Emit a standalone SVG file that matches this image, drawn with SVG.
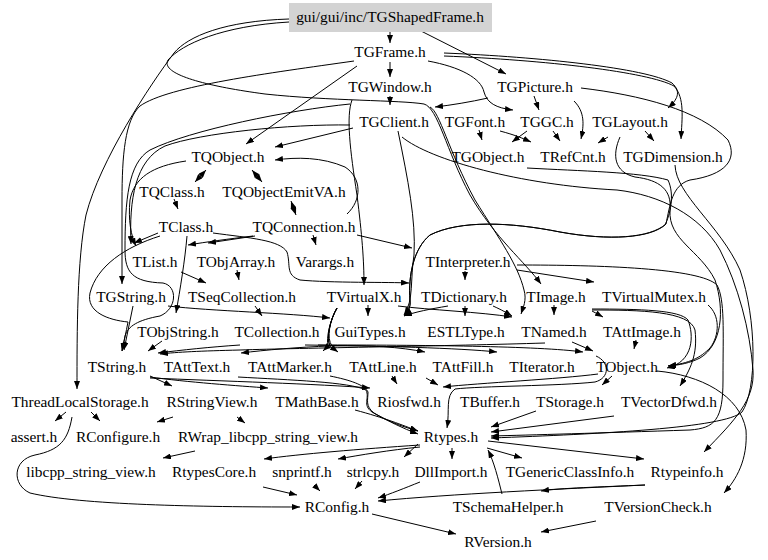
<svg xmlns="http://www.w3.org/2000/svg" width="768" height="560" viewBox="0 0 768 560">
<style>
text{font-family:"Liberation Serif","Times New Roman",serif;font-size:15.4px;fill:#000;text-anchor:middle}
.e{fill:none;stroke:#000;stroke-width:1;marker-end:url(#a)}
.d{marker-start:url(#a)}
</style>
<defs>
<marker id="a" viewBox="0 0 8 6" refX="8" refY="3" markerWidth="8" markerHeight="6" markerUnits="userSpaceOnUse" orient="auto-start-reverse"><path d="M0,0 L8,3 L0,6 z" fill="#000"/></marker>
</defs>
<rect width="768" height="560" fill="#fff"/>
<g id="edges">
<path class="e" d="M390,32 L390,43"/>
<path class="e" d="M421,31 L506,74"/>
<path class="e" d="M289,19 C225,21 188,36 174,53 C150,85 100,160 86,215 C77,260 77,330 77,389"/>
<path class="e" d="M289,22 C222,26 182,44 168,60 C160,74 205,86 265,94 C330,101 400,100 424,104 C438,108 446,150 470,195 C495,238 525,262 541,284"/>
<path class="e" d="M488,98 C470,102 452,105 435,107"/>
<path class="e" d="M390,62 L390,77"/>
<path class="e" d="M354,61 C270,73 168,86 140,106 C125,120 122,155 122,200 L122,284"/>
<path class="e" d="M357,66 L246,144"/>
<path class="e" d="M428,61 C460,67 481,78 484,92 C487,103 496,108 513,110"/>
<path class="e" d="M444,53 C540,57 645,68 672,83 C682,92 677,100 668,108"/>
<path class="e" d="M444,56 C545,60 648,72 674,86 C685,98 682,118 681,139"/>
<path class="e" d="M390,96 L390,105"/>
<path class="e" d="M352,100 C346,116 350,150 357,195 C362,235 364,260 364,285"/>
<path class="e" d="M350,104 C290,110 190,130 150,150 C128,163 125,200 125,250 C125,272 132,282 163,283 C178,286 177,309 160,316 C138,320 128,326 125,336 L122,351"/>
<path class="e" d="M353,128 L275,147"/>
<path class="e" d="M350,125 C290,124 200,133 165,146 C135,160 129,200 131,244"/>
<path class="e" d="M186,161 C152,166 134,178 130,200 C128,220 131,236 136,246"/>
<path class="e" d="M347,214 C362,200 362,178 345,167 C322,157 297,157 275,160"/>
<path class="e d" d="M195,182 L206,170"/>
<path class="e d" d="M262,182 L252,170"/>
<path class="e d" d="M291,201 L296,215"/>
<path class="e" d="M174,199 L178,209"/>
<path class="e" d="M158,233 L134,243"/>
<path class="e" d="M160,236 C125,247 97,266 90,293 C86,312 108,320 128,322 C126,332 124,342 122,351"/>
<path class="e" d="M187,236 C185,260 180,290 176,313"/>
<path class="e" d="M253,236 C228,239 206,242 188,245"/>
<path class="e" d="M255,236 L208,243"/>
<path class="e" d="M213,233 C250,238 280,240 287,252 C291,265 285,275 300,280 C330,283 390,282 409,283"/>
<path class="e" d="M313,235 L316,245"/>
<path class="e" d="M357,235 L412,248"/>
<path class="e" d="M181,272 L206,283"/>
<path class="e" d="M237,270 L239,280"/>
<path class="e" d="M255,306 L262,316"/>
<path class="e" d="M168,306 C210,311 290,313 330,318"/>
<path class="e" d="M133,306 L124,350"/>
<path class="e" d="M162,341 L148,351"/>
<path class="e" d="M240,345 C210,347 182,350 158,353"/>
<path class="e" d="M368,305 L368,316"/>
<path class="e" d="M337,308 C330,320 326,338 330,346 C300,347 265,350 241,353"/>
<path class="e" d="M337,308 C330,320 326,338 328,346 L323,351"/>
<path class="e" d="M337,308 C330,320 326,338 330,346 L338,352"/>
<path class="e" d="M337,308 C330,320 326,338 332,346 C370,345 400,347 425,352"/>
<path class="e" d="M398,306 C430,310 480,312 512,317"/>
<path class="e" d="M305,345 C380,346 460,348 497,352"/>
<path class="e" d="M545,343 C450,346 300,348 240,350 C200,351 178,352 160,354"/>
<path class="e" d="M572,342 L593,351"/>
<path class="e" d="M318,345 C420,345 540,346 583,352"/>
<path class="e" d="M465,271 L465,280"/>
<path class="e" d="M517,270 L594,282"/>
<path class="e" d="M517,265 C600,265 700,268 717,285 C725,300 723,330 723,380 C723,420 715,428 690,430 C600,433 530,435 491,436"/>
<path class="e" d="M465,306 L465,316"/>
<path class="e" d="M493,306 C502,310 507,313 512,316"/>
<path class="e" d="M448,306 C430,309 415,312 404,316"/>
<path class="e" d="M430,107 C440,112 448,150 475,200 C500,240 518,265 524,290 C527,300 523,308 521,314"/>
<path class="e" d="M398,131 C408,180 416,220 414,255 C410,280 414,300 404,315"/>
<path class="e" d="M527,168 C580,171 640,172 668,180 C675,195 670,215 665,225 C650,238 610,241 560,232 C510,222 460,220 430,235 C414,248 408,275 410,300 C411,308 407,313 404,316"/>
<path class="e" d="M581,88 C640,95 700,110 728,140 C738,160 725,175 690,180 C672,185 670,205 666,224 C650,238 610,241 560,232 C510,222 460,220 430,235 C414,248 408,275 410,300 C411,308 407,313 404,316"/>
<path class="e" d="M402,137 C430,160 520,185 617,190 C660,195 700,215 720,250 C738,285 750,330 753,370 C755,400 735,420 704,452"/>
<path class="e" d="M675,165 C676,195 720,225 740,270 C757,320 757,390 742,412 C725,428 600,434 491,438"/>
<path class="e" d="M534,96 L539,110"/>
<path class="e" d="M574,101 C585,112 584,125 581,139"/>
<path class="e" d="M479,130 L482,140"/>
<path class="e" d="M527,131 L512,142"/>
<path class="e" d="M500,131 C515,135 522,138 531,142"/>
<path class="e" d="M553,131 L560,141"/>
<path class="e" d="M608,137 L598,143"/>
<path class="e" d="M645,131 L654,141"/>
<path class="e" d="M620,137 C612,155 614,172 635,177 C660,180 672,190 670,210 C668,240 700,250 715,280 C725,310 722,345 700,358 C690,363 680,365 668,366"/>
<path class="e" d="M150,376 L172,386"/>
<path class="e" d="M150,377 C185,382 240,386 268,388"/>
<path class="e" d="M150,378 C220,381 320,384 370,388"/>
<path class="e" d="M238,377 C290,380 350,382 366,390 C370,398 362,405 372,412 C385,420 400,426 418,431"/>
<path class="e" d="M330,376 C350,380 365,385 368,392 C368,400 365,406 374,413 C388,421 402,428 418,434"/>
<path class="e" d="M392,376 L397,384"/>
<path class="e" d="M426,378 L438,385"/>
<path class="e" d="M598,374 C560,379 480,383 443,387"/>
<path class="e" d="M596,356 C610,362 610,378 595,382 C560,386 480,386 455,389 C445,396 450,410 447,428"/>
<path class="e" d="M612,376 L602,385"/>
<path class="e" d="M554,305 L554,315"/>
<path class="e" d="M592,311 L603,317"/>
<path class="e" d="M592,310 C640,310 690,311 695,330 C698,355 690,370 680,386"/>
<path class="e" d="M592,309 C640,309 680,310 688,320 C694,335 694,362 667,368"/>
<path class="e" d="M708,305 C720,315 720,335 710,348 C700,358 690,363 668,366"/>
<path class="e" d="M636,340 L634,349"/>
<path class="e" d="M657,371 C700,375 740,395 746,430 C748,460 736,480 724,493"/>
<path class="e" d="M536,411 L491,427"/>
<path class="e" d="M614,416 L491,432"/>
<path class="e" d="M355,410 C385,418 402,425 418,431"/>
<path class="e" d="M420,445 C360,449 300,454 264,459"/>
<path class="e" d="M420,447 C390,450 360,455 338,459"/>
<path class="e" d="M418,444 L404,457"/>
<path class="e" d="M452,448 L452,459"/>
<path class="e" d="M487,448 L522,458"/>
<path class="e" d="M488,441 L644,459"/>
<path class="e" d="M502,494 C498,478 494,462 488,450"/>
<path class="e" d="M645,485 C600,487 560,488 541,491"/>
<path class="e" d="M645,485 C560,489 450,494 378,501"/>
<path class="e" d="M263,487 L297,495"/>
<path class="e" d="M314,485 L320,491"/>
<path class="e" d="M362,481 L355,489"/>
<path class="e" d="M420,482 C405,488 390,494 378,498"/>
<path class="e" d="M66,412 L55,421"/>
<path class="e" d="M91,412 L100,421"/>
<path class="e" d="M72,417 C68,440 60,450 35,455 C12,460 12,485 30,493 C80,505 200,507 300,507"/>
<path class="e" d="M173,417 L157,422"/>
<path class="e" d="M237,417 L245,423"/>
<path class="e" d="M195,451 L163,458"/>
<path class="e" d="M372,514 L456,534"/>
<path class="e" d="M596,521 L541,532"/>
</g>
<g id="n_TGShapedFrame"><rect x="289" y="3" width="203" height="29" fill="#d3d3d3"/><text x="390" y="22">gui/gui/inc/TGShapedFrame.h</text></g>
<g id="n_TGFrame"><text x="390" y="57">TGFrame.h</text></g>
<g id="n_TGWindow"><text x="390" y="92">TGWindow.h</text></g>
<g id="n_TGPicture"><text x="535" y="92">TGPicture.h</text></g>
<g id="n_TGClient"><text x="394" y="127">TGClient.h</text></g>
<g id="n_TGFont"><text x="475" y="127">TGFont.h</text></g>
<g id="n_TGGC"><text x="547" y="127">TGGC.h</text></g>
<g id="n_TGLayout"><text x="630" y="127">TGLayout.h</text></g>
<g id="n_TQObject"><text x="228" y="162">TQObject.h</text></g>
<g id="n_TGObject"><text x="488" y="162">TGObject.h</text></g>
<g id="n_TRefCnt"><text x="573" y="162">TRefCnt.h</text></g>
<g id="n_TGDimension"><text x="673" y="162">TGDimension.h</text></g>
<g id="n_TQClass"><text x="172" y="197">TQClass.h</text></g>
<g id="n_TQObjectEmitVA"><text x="284" y="197">TQObjectEmitVA.h</text></g>
<g id="n_TClass"><text x="186" y="232">TClass.h</text></g>
<g id="n_TQConnection"><text x="304" y="232">TQConnection.h</text></g>
<g id="n_TList"><text x="155" y="267">TList.h</text></g>
<g id="n_TObjArray"><text x="236" y="267">TObjArray.h</text></g>
<g id="n_Varargs"><text x="325" y="267">Varargs.h</text></g>
<g id="n_TInterpreter"><text x="468" y="267">TInterpreter.h</text></g>
<g id="n_TGString"><text x="131" y="302">TGString.h</text></g>
<g id="n_TSeqCollection"><text x="242" y="302">TSeqCollection.h</text></g>
<g id="n_TVirtualX"><text x="364" y="302">TVirtualX.h</text></g>
<g id="n_TDictionary"><text x="464" y="302">TDictionary.h</text></g>
<g id="n_TImage"><text x="556" y="302">TImage.h</text></g>
<g id="n_TVirtualMutex"><text x="654" y="302">TVirtualMutex.h</text></g>
<g id="n_TObjString"><text x="178" y="337">TObjString.h</text></g>
<g id="n_TCollection"><text x="277" y="337">TCollection.h</text></g>
<g id="n_GuiTypes"><text x="370" y="337">GuiTypes.h</text></g>
<g id="n_ESTLType"><text x="466" y="337">ESTLType.h</text></g>
<g id="n_TNamed"><text x="554" y="337">TNamed.h</text></g>
<g id="n_TAttImage"><text x="642" y="337">TAttImage.h</text></g>
<g id="n_TString"><text x="117" y="372">TString.h</text></g>
<g id="n_TAttText"><text x="197" y="372">TAttText.h</text></g>
<g id="n_TAttMarker"><text x="290" y="372">TAttMarker.h</text></g>
<g id="n_TAttLine"><text x="383" y="372">TAttLine.h</text></g>
<g id="n_TAttFill"><text x="463" y="372">TAttFill.h</text></g>
<g id="n_TIterator"><text x="542" y="372">TIterator.h</text></g>
<g id="n_TObject"><text x="627" y="372">TObject.h</text></g>
<g id="n_ThreadLocalStorage"><text x="80" y="407">ThreadLocalStorage.h</text></g>
<g id="n_RStringView"><text x="212" y="407">RStringView.h</text></g>
<g id="n_TMathBase"><text x="317" y="407">TMathBase.h</text></g>
<g id="n_Riosfwd"><text x="409" y="407">Riosfwd.h</text></g>
<g id="n_TBuffer"><text x="490" y="407">TBuffer.h</text></g>
<g id="n_TStorage"><text x="570" y="407">TStorage.h</text></g>
<g id="n_TVectorDfwd"><text x="669" y="407">TVectorDfwd.h</text></g>
<g id="n_assert"><text x="34" y="442">assert.h</text></g>
<g id="n_RConfigure"><text x="118" y="442">RConfigure.h</text></g>
<g id="n_RWrap"><text x="268" y="442">RWrap_libcpp_string_view.h</text></g>
<g id="n_Rtypes"><text x="451" y="442">Rtypes.h</text></g>
<g id="n_libcpp"><text x="91" y="477">libcpp_string_view.h</text></g>
<g id="n_RtypesCore"><text x="214" y="477">RtypesCore.h</text></g>
<g id="n_snprintf"><text x="302" y="477">snprintf.h</text></g>
<g id="n_strlcpy"><text x="373" y="477">strlcpy.h</text></g>
<g id="n_DllImport"><text x="451" y="477">DllImport.h</text></g>
<g id="n_TGenericClassInfo"><text x="570" y="477">TGenericClassInfo.h</text></g>
<g id="n_Rtypeinfo"><text x="687" y="477">Rtypeinfo.h</text></g>
<g id="n_RConfig"><text x="337" y="512">RConfig.h</text></g>
<g id="n_TSchemaHelper"><text x="508" y="512">TSchemaHelper.h</text></g>
<g id="n_TVersionCheck"><text x="658" y="512">TVersionCheck.h</text></g>
<g id="n_RVersion"><text x="498" y="547">RVersion.h</text></g>
</svg>
